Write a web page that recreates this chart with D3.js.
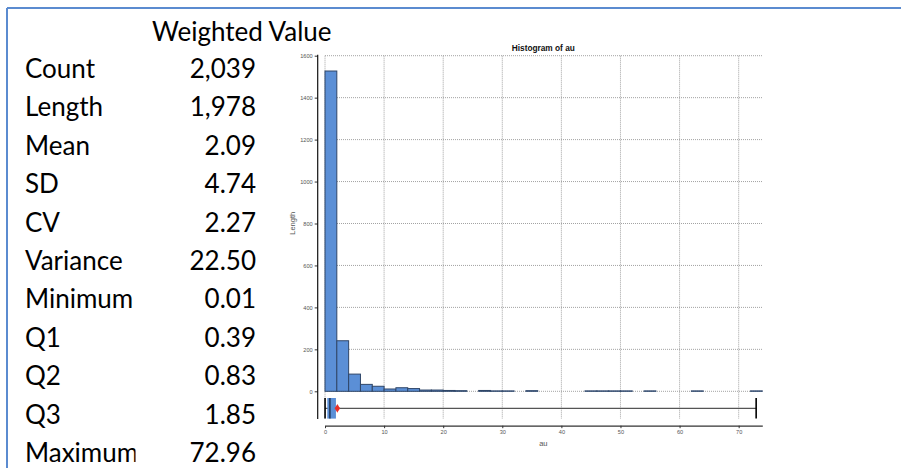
<!DOCTYPE html>
<html><head><meta charset="utf-8">
<script src="https://cdn.jsdelivr.net/npm/d3@7"></script>
<style>
html,body{margin:0;padding:0;background:#fff;}
svg{display:block;}
</style></head>
<body>
<svg id="c" width="901" height="468"></svg>
<script>
// ---- data ----
const statLabels = ["Count","Length","Mean","SD","CV","Variance","Minimum","Q1","Q2","Q3","Maximum"];
const statValues = ["2,039","1,978","2.09","4.74","2.27","22.50","0.01","0.39","0.83","1.85","72.96"];
const tableHeader = "Weighted Value";
const binStarts = [0,2,4,6,8,10,12,14,16,18,20,22,24,26,28,30,32,34,36,38,40,42,44,46,48,50,52,54,56,58,60,62,64,66,68,70,72];
const binCounts = [1527,241,82,33,24,11,17,13,6,6,4,3,0,4,2,2,0,3,0,0,0,0,2,2,2,2,0,2,0,0,0,2,0,0,0,0,2];
const binWidth = 2;
const xTicks = [0,10,20,30,40,50,60,70];
const yTicks = [0,200,400,600,800,1000,1200,1400,1600];
const box = {min:0.01, q1:0.39, median:0.83, q3:1.85, max:72.96, mean:2.09};
const chartTitle = "Histogram of au";
const xTitle = "au";
const yTitle = "Length";

const svg = d3.select("#c");

// frame (top and left border)
svg.append("line").attr("x1",7).attr("x2",901).attr("y1",8).attr("y2",8)
  .attr("stroke","#5b8bd0").attr("stroke-width",2);
svg.append("line").attr("x1",7).attr("x2",7).attr("y1",8).attr("y2",468)
  .attr("stroke","#5b8bd0").attr("stroke-width",2);

// ---- table ----
const tFont = "Lato, 'Open Sans', sans-serif";
svg.append("text").attr("x",152).attr("y",41).text(tableHeader)
  .attr("font-family",tFont).attr("font-size",26).attr("fill","#000");
svg.append("defs").append("clipPath").attr("id","lblclip")
  .append("rect").attr("x",0).attr("y",0).attr("width",135.5).attr("height",468);
const rowY = i => 78 + i*38.4;
svg.append("g").attr("clip-path","url(#lblclip)").selectAll("text").data(statLabels).join("text")
  .attr("x",25).attr("y",(d,i)=>rowY(i)).text(d=>d)
  .attr("font-family",tFont).attr("font-size",26).attr("fill","#000");
svg.append("g").selectAll("text").data(statValues).join("text")
  .attr("x",256).attr("y",(d,i)=>rowY(i)).attr("text-anchor","end").text(d=>d)
  .attr("font-family",tFont).attr("font-size",26).attr("fill","#000");

// ---- histogram ----
const x = d3.scaleLinear().domain([0,74]).range([325,762.3]);
const y = d3.scaleLinear().domain([0,1600]).range([391.3,55.7]);
const gridBottom = 418.5;
const aFont = "'Liberation Sans', Arial, sans-serif";

// grid
svg.append("g").selectAll("line").data(yTicks).join("line")
  .attr("x1",x(0)).attr("x2",x(74)).attr("y1",d=>y(d)).attr("y2",d=>y(d))
  .attr("stroke","#999").attr("stroke-width",0.9).attr("stroke-dasharray","1,1");
svg.append("g").selectAll("line").data(xTicks).join("line")
  .attr("x1",d=>x(d)).attr("x2",d=>x(d)).attr("y1",y(1600)).attr("y2",gridBottom)
  .attr("stroke","#999").attr("stroke-width",0.9).attr("stroke-dasharray","1,1");

// bars
const bars = binStarts.map((s,i)=>({s, c:binCounts[i]})).filter(d=>d.c>0);
svg.append("g").selectAll("rect").data(bars).join("rect")
  .attr("x",d=>x(d.s)).attr("width",d=>x(d.s+binWidth)-x(d.s))
  .attr("y",d=>y(d.c)).attr("height",d=>y(0)-y(d.c))
  .attr("fill","#5b8fd6").attr("stroke","#2f4668").attr("stroke-width",1);

// boxplot
const by = 408.3, bh = 20.6;
svg.append("line").attr("x1",x(box.min)).attr("x2",x(box.max)).attr("y1",by).attr("y2",by)
  .attr("stroke","#555").attr("stroke-width",1.2);
svg.append("rect").attr("x",x(box.q1)).attr("width",x(box.q3)-x(box.q1))
  .attr("y",by-bh/2).attr("height",bh).attr("fill","#5b8fd6");
svg.append("line").attr("x1",x(box.median)).attr("x2",x(box.median)).attr("y1",by-bh/2).attr("y2",by+bh/2)
  .attr("stroke","#1f3556").attr("stroke-width",1.5);
[box.min, box.max].forEach(v=>{
  svg.append("line").attr("x1",x(v)).attr("x2",x(v)).attr("y1",by-bh/2).attr("y2",by+bh/2)
    .attr("stroke","#000").attr("stroke-width",1.6);
});
svg.append("path").attr("d",d3.symbol(d3.symbolDiamond,22)())
  .attr("transform",`translate(${x(box.mean)},${by})`).attr("fill","#e8302a");
svg.append("path").attr("d",d3.symbol(d3.symbolCross,14)())
  .attr("transform",`translate(${x(box.mean)},${by})`).attr("fill","#e8302a");

// y axis
const yAxis = svg.append("g").attr("transform","translate(317.7,0)")
  .call(d3.axisLeft(y).tickValues(yTicks).tickFormat(d3.format("d")).tickSize(3).tickPadding(2));
yAxis.select(".domain").remove();
yAxis.selectAll("line").attr("stroke","#333");
yAxis.selectAll("text").attr("font-family",aFont).attr("font-size",5.6).attr("fill","#555");
svg.append("line").attr("x1",317.7).attr("x2",317.7).attr("y1",y(1600)-1).attr("y2",419)
  .attr("stroke","#111").attr("stroke-width",1.2);

// x axis
const xAxis = svg.append("g").attr("transform","translate(0,425.7)")
  .call(d3.axisBottom(x).tickValues(xTicks).tickFormat(d3.format("d")).tickSize(2.5).tickSizeOuter(0).tickPadding(1.5));
xAxis.select(".domain").attr("stroke","#333").attr("stroke-width",1.2);
xAxis.selectAll("line").attr("stroke","#333");
xAxis.selectAll("text").attr("font-family",aFont).attr("font-size",5.6).attr("fill","#555");

// titles
svg.append("text").attr("x",543.3).attr("y",50.8).attr("text-anchor","middle").text(chartTitle)
  .attr("font-family",aFont).attr("font-size",8.3).attr("font-weight","bold").attr("fill","#111");
svg.append("text").attr("x",543.3).attr("y",445.5).attr("text-anchor","middle").text(xTitle)
  .attr("font-family",aFont).attr("font-size",7.5).attr("fill","#555");
svg.append("text").attr("transform","translate(294.8,223.3) rotate(-90)").attr("text-anchor","middle").text(yTitle)
  .attr("font-family",aFont).attr("font-size",7.5).attr("fill","#555");
</script>
</body></html>
